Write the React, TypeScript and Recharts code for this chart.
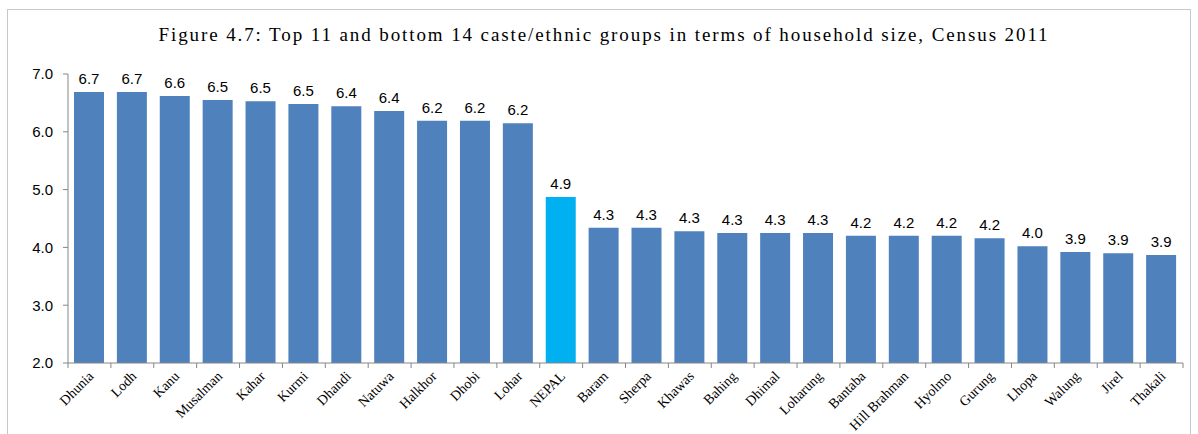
import { BarChart, Bar, XAxis, YAxis, Cell, LabelList } from "recharts";

const groups = [
  "Dhunia", "Lodh", "Kanu", "Musalman", "Kahar", "Kurmi", "Dhandi", "Natuwa", "Halkhor", "Dhobi", "Lohar",
  "NEPAL",
  "Baram", "Sherpa", "Khawas", "Bahing", "Dhimal", "Loharung", "Bantaba", "Hill Brahman", "Hyolmo", "Gurung",
  "Lhopa", "Walung", "Jirel", "Thakali",
];
const householdSize = [
  6.69, 6.69, 6.62, 6.55, 6.53, 6.48, 6.44, 6.36, 6.19, 6.19, 6.15,
  4.87,
  4.34, 4.34, 4.28, 4.25, 4.25, 4.25, 4.2, 4.2, 4.2, 4.16,
  4.02, 3.92, 3.9, 3.87,
];
const yTicks = [2, 3, 4, 5, 6, 7];
const highlight = "NEPAL";

const data = groups.map((g, i) => ({ group: g, size: householdSize[i] }));

const W = 1198;
const H = 434;
const M = { top: 74, right: 15, bottom: 0, left: 8 };
const Y_AXIS_W = 60;
const X_AXIS_H = 71;
const BAND = (W - M.left - M.right - Y_AXIS_W) / data.length;
const AXIS = "#868686";
const SANS = "'Liberation Sans', Arial, sans-serif";

function XTick(props: any) {
  const { x, y, payload, index } = props;
  const half = BAND / 2;
  return (
    <g>
      <line x1={x - half} y1={y} x2={x - half} y2={y + 5} stroke={AXIS} />
      {index === data.length - 1 && <line x1={x + half} y1={y} x2={x + half} y2={y + 5} stroke={AXIS} />}
      <text
        x={x + 5}
        y={y + 14}
        textAnchor="end"
        transform={`rotate(-45, ${x + 5}, ${y + 14})`}
        fontFamily="'Liberation Serif', 'Times New Roman', serif"
        fontSize={14}
        fill="#000"
      >
        {payload.value}
      </text>
    </g>
  );
}

export default function App() {
  return (
    <div style={{ position: "absolute", left: 0, top: 0, width: W, height: H, background: "#fff", overflow: "hidden" }}>
      <div style={{ position: "absolute", left: 7, top: 9, width: 1182, height: 440, border: "1px solid #c8c8c8" }} />
      <div
        style={{
          position: "absolute",
          left: 0,
          top: 24,
          width: 1208,
          textAlign: "center",
          fontFamily: "'Liberation Serif', 'Times New Roman', serif",
          fontSize: 19,
          letterSpacing: 1.9,
          color: "#000",
        }}
      >
        Figure 4.7: Top 11 and bottom 14 caste/ethnic groups in terms of household size, Census 2011
      </div>
      <div style={{ position: "absolute", left: 0, top: 0 }}>
        <BarChart width={W} height={H} data={data} margin={M}>
          <YAxis
            width={Y_AXIS_W}
            domain={[2, 7]}
            ticks={yTicks}
            tickFormatter={(v: number) => v.toFixed(1)}
            axisLine={{ stroke: AXIS }}
            tickLine={{ stroke: AXIS }}
            tickSize={5}
            tickMargin={10}
            tick={{ fill: "#000", fontSize: 15, fontFamily: SANS }}
            allowDataOverflow
          />
          <XAxis
            dataKey="group"
            interval={0}
            height={X_AXIS_H}
            axisLine={{ stroke: AXIS }}
            tickLine={false}
            tickSize={0}
            tickMargin={0}
            tick={<XTick />}
          />
          <Bar dataKey="size" barSize={30} isAnimationActive={false}>
            {data.map((d) => (
              <Cell key={d.group} fill={d.group === highlight ? "#00B0F0" : "#4F81BD"} />
            ))}
            <LabelList
              dataKey="size"
              position="top"
              offset={8}
              formatter={(v: any) => Number(v).toFixed(1)}
              style={{ fill: "#000", fontSize: 15, fontFamily: SANS }}
            />
          </Bar>
        </BarChart>
      </div>
    </div>
  );
}
